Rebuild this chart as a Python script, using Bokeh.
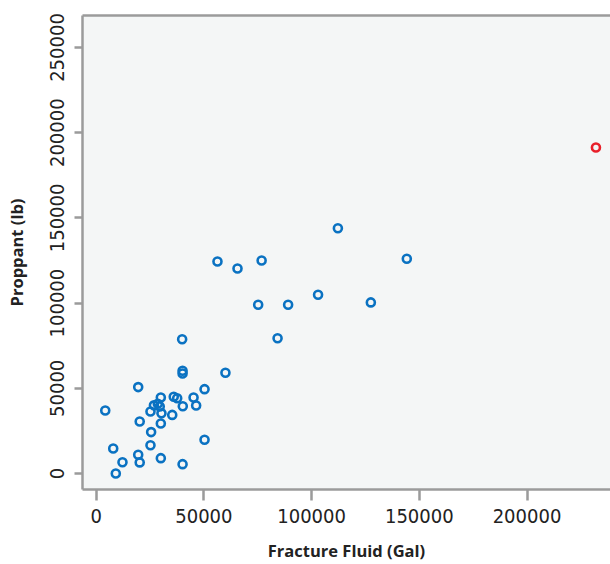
from bokeh.plotting import figure
from bokeh.models import Range1d, FixedTicker, LinearAxis, BasicTickFormatter, ColumnDataSource
from bokeh.embed import file_html
from bokeh.resources import INLINE

# Fracture fluid (Gal) vs proppant (lb)
fluid = [4200, 7900, 9100, 12200, 19500, 19500, 20200, 20200, 25200, 25500,
         25200, 26800, 28600, 29500, 30000, 30300, 30000, 30000, 35300, 36000,
         37600, 39900, 40100, 40100, 40200, 40100, 45200, 46400, 50300, 50300,
         60000, 56300, 65600, 76800, 75200, 89100, 84200, 103000, 112200, 127500,
         144200]
proppant = [37000, 14700, 0, 6600, 50700, 11000, 6500, 30500, 36400, 24300,
            16600, 40000, 40900, 39300, 44600, 35300, 29300, 9000, 34400, 45000,
            44200, 78800, 60300, 58700, 39500, 5500, 44600, 39900, 49500, 19800,
            59100, 124400, 120300, 125000, 99000, 99000, 79400, 104900, 143900, 100400,
            126000]

outlier_fluid = [232000]
outlier_proppant = [191300]

x_ticks = [0, 50000, 100000, 150000, 200000]
y_ticks = [0, 50000, 100000, 150000, 200000, 250000]

AXIS_COLOR = "#9b9b9b"
TICK_FONT = "'Liberation Sans Narrow', 'DejaVu Sans Condensed', sans-serif"
TITLE_FONT = "'Open Sans', sans-serif"

p = figure(width=610, height=564, output_backend="svg", toolbar_location=None,
           x_range=Range1d(-6360, 238760), y_range=Range1d(-9390, 268780),
           x_axis_location="below", y_axis_location="left")
p.min_border_left = 82
p.min_border_right = 0
p.min_border_top = 15
p.min_border_bottom = 75
p.background_fill_color = "#f4f6f6"
p.border_fill_color = "white"
p.outline_line_color = None
p.grid.visible = False

for ax in (p.xaxis[0], p.yaxis[0]):
    ax.axis_line_color = AXIS_COLOR
    ax.axis_line_width = 2.5
    ax.major_tick_line_color = AXIS_COLOR
    ax.major_tick_line_width = 2.5
    ax.major_tick_in = 0
    ax.minor_tick_line_color = None
    ax.major_label_text_font = TICK_FONT
    ax.major_label_text_font_size = "20px"
    ax.major_label_text_color = "#222222"
    ax.formatter = BasicTickFormatter(use_scientific=False)
    ax.axis_label_text_font = TITLE_FONT
    ax.axis_label_text_font_style = "bold"
    ax.axis_label_text_font_size = "16.5px"
    ax.axis_label_text_color = "#222222"

p.xaxis[0].ticker = FixedTicker(ticks=x_ticks)
p.xaxis[0].major_tick_out = 11
p.xaxis[0].major_label_standoff = 8
p.xaxis[0].axis_label = "Fracture Fluid (Gal)"
p.xaxis[0].axis_label_standoff = 13

p.yaxis[0].ticker = FixedTicker(ticks=y_ticks)
p.yaxis[0].major_tick_out = 8
p.yaxis[0].major_label_standoff = 10
p.yaxis[0].major_label_orientation = "vertical"
p.yaxis[0].axis_label = "Proppant (lb)"
p.yaxis[0].axis_label_standoff = 20

top = LinearAxis(ticker=FixedTicker(ticks=[]), axis_line_color=AXIS_COLOR, axis_line_width=2.5,
                 major_tick_line_color=None, minor_tick_line_color=None,
                 major_label_text_font_size="0px")
p.add_layout(top, "above")

src = ColumnDataSource(data=dict(x=fluid, y=proppant))
p.scatter("x", "y", source=src, marker="circle", size=8, fill_color=None,
          line_color="#0a72c2", line_width=2.6)
src2 = ColumnDataSource(data=dict(x=outlier_fluid, y=outlier_proppant))
p.scatter("x", "y", source=src2, marker="circle", size=8, fill_color=None,
          line_color="#e8202a", line_width=2.6)

open("out.html", "w").write(file_html(p, INLINE))
